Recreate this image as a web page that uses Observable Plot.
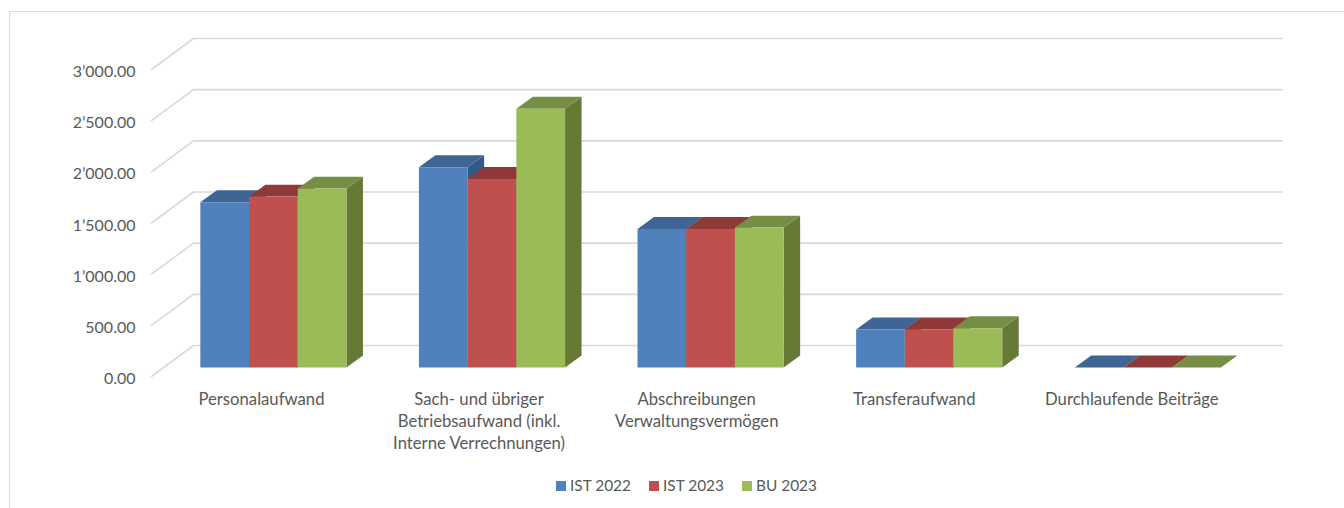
<!DOCTYPE html>
<html>
<head>
<meta charset="utf-8">
<script src="https://cdn.jsdelivr.net/npm/d3@7"></script>
<script src="https://cdn.jsdelivr.net/npm/@observablehq/plot@0.6"></script>
<style>
  html, body { margin: 0; padding: 0; background: #fff; overflow: hidden; }
  #frame { position: absolute; left: 9px; top: 11px; right: 0; bottom: 0; border-left: 1.5px solid #dcdcdc; border-top: 1.5px solid #dcdcdc; pointer-events: none; }
  #legend { position: relative; height: 36px; font: 15.4px Lato, sans-serif; color: #595959; }
  #legend span { position: absolute; top: 13px; line-height: 0; white-space: nowrap; }
  #legend i { position: absolute; top: 9px; width: 10px; height: 10px; }
  svg { background: transparent !important; }
</style>
</head>
<body>
<div id="chart"></div>
<div id="legend"></div>
<div id="frame"></div>
<script>
const categories = [
  "Personalaufwand",
  "Sach- und übriger\nBetriebsaufwand (inkl.\nInterne Verrechnungen)",
  "Abschreibungen\nVerwaltungsvermögen",
  "Transferaufwand",
  "Durchlaufende Beiträge"
];
const seriesNames = ["IST 2022", "IST 2023", "BU 2023"];
const ist2022 = [1614, 1956, 1354, 371, 0];
const ist2023 = [1670, 1843, 1354, 371, 0];
const bu2023  = [1748, 2529, 1367, 384, 0];
const yTicks = [0, 500, 1000, 1500, 2000, 2500, 3000];
const frontColors = ["#4f81bd", "#c0504d", "#9bbb59"];
const topColors   = ["#3e6593", "#8f3a38", "#768e43"];
const sideColors  = ["#335884", "#7d3230", "#667a35"];

// projection of the oblique 3D box, in scale units
const wallDX = 42 / 218.6, wallDY = 303;   // floor depth
const barDX = 16.5 / 218.6, barDY = 117;   // bar depth
const barX0 = 0.2234, barW = 0.2228;       // first bar offset, bar width
const barBase = 88;                        // bar foot above the floor's front edge
const wallEnd = 4.98;
const labelStep = 0.9954;

const series = [ist2022, ist2023, bu2023];
const polys = [];
const addPoly = (id, color, pts) => pts.forEach(([x, y]) => polys.push({id, color, x, y}));
categories.forEach((_, i) => {
  series.forEach((values, s) => {
    const x0 = i + barX0 + s * barW, x1 = x0 + barW;
    const y0 = barBase, y1 = barBase + values[i];
    addPoly(`${i}-${s}-side`, sideColors[s], [[x1, y0], [x1 + barDX, y0 + barDY], [x1 + barDX, y1 + barDY], [x1, y1]]);
    addPoly(`${i}-${s}-top`, topColors[s], [[x0, y1], [x1, y1], [x1 + barDX, y1 + barDY], [x0 + barDX, y1 + barDY]]);
    addPoly(`${i}-${s}-front`, frontColors[s], [[x0, y0], [x1, y0], [x1, y1], [x0, y1]]);
  });
});

const grid = yTicks.flatMap(v => [
  {v, x: 0, y: v},
  {v, x: wallDX, y: v + wallDY},
  {v, x: wallEnd + wallDX, y: v + wallDY}
]);

const fmt = d3.formatLocale({decimal: ".", thousands: "’", grouping: [3], currency: ["", ""]}).format(",.2f");
const font = "Lato, sans-serif";

const chart = Plot.plot({
  width: 1344,
  height: 472,
  marginLeft: 151,
  marginRight: 100,
  marginTop: 38,
  marginBottom: 96,
  style: {fontFamily: font, fontSize: "16px", background: "transparent"},
  x: {domain: [0, 5], axis: null},
  y: {domain: [0, 3000 + wallDY], axis: null},
  marks: [
    Plot.line(grid, {x: "x", y: "y", z: "v", stroke: "#d9d9d9", strokeWidth: 1.6}),
    Plot.line(polys, {x: "x", y: "y", z: "id", fill: "color", stroke: null, curve: "linear-closed"}),
    Plot.axisY({ticks: yTicks, tickSize: 0, tickPadding: 16, tickFormat: fmt, label: null, color: "#595959", fontSize: 16, dy: 2.5}),
    Plot.text(categories, {
      x: (d, i) => 0.503 + i * labelStep,
      y: 0,
      text: d => d,
      dy: 13,
      lineAnchor: "top",
      lineHeight: 1.31,
      fill: "#595959",
      fontSize: 16.7
    })
  ]
});
document.getElementById("chart").appendChild(chart);

const legend = document.getElementById("legend");
const legendPos = [556, 649, 742];
seriesNames.forEach((name, i) => {
  const sw = document.createElement("i");
  sw.style.left = legendPos[i] + "px";
  sw.style.background = frontColors[i];
  legend.appendChild(sw);
  const t = document.createElement("span");
  t.style.left = legendPos[i] + 14 + "px";
  t.textContent = name;
  legend.appendChild(t);
});
</script>
</body>
</html>
